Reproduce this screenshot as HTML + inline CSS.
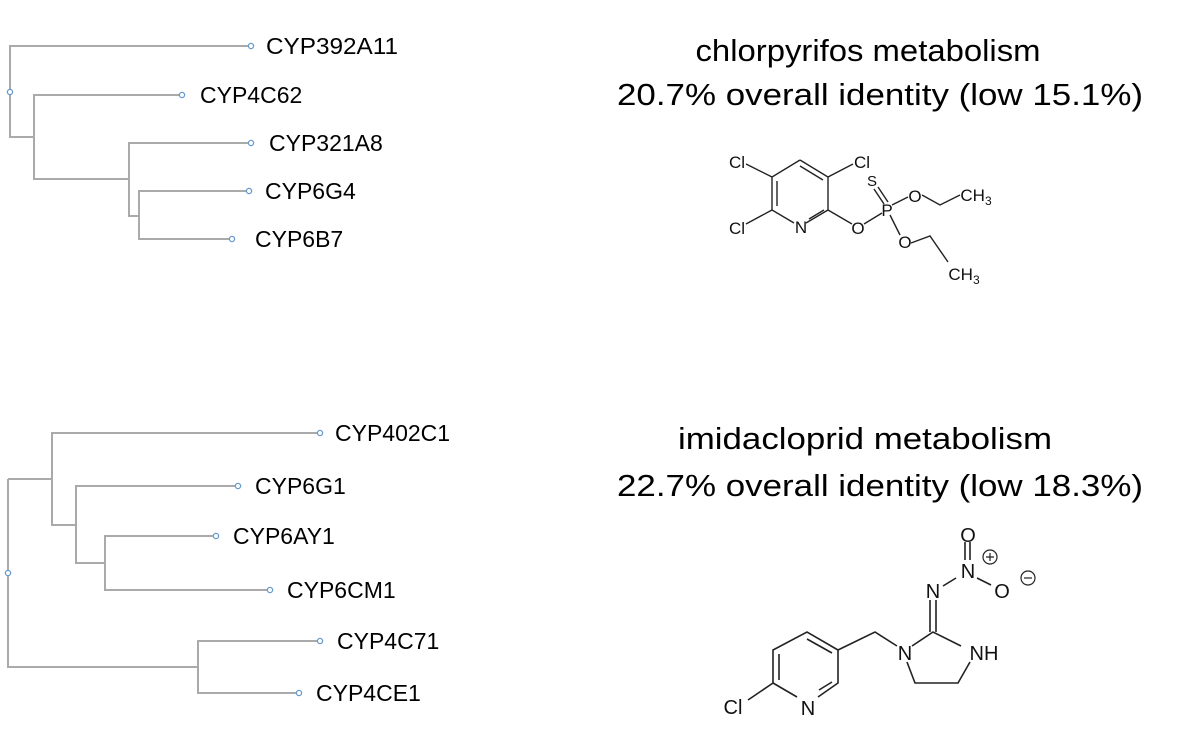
<!DOCTYPE html>
<html><head><meta charset="utf-8"><style>
html,body{margin:0;padding:0;background:#fff;}
svg{display:block;font-family:"Liberation Sans",Arial,sans-serif;}
</style></head><body>
<svg width="1199" height="734" viewBox="0 0 1199 734" xmlns="http://www.w3.org/2000/svg">
<g fill="none" stroke="#aaaaaa" stroke-width="2">
<path d="M251 46 H10 V137 H34"/>
<path d="M182 95 H34 V179 H129"/>
<path d="M251 143 H129 V216 H139"/>
<path d="M249 191 H139 V239 H232"/>
<path d="M8 479 V667 H198"/>
<path d="M8 479 H52"/>
<path d="M320 433 H52 V525 H76"/>
<path d="M238 486 H76 V563 H105"/>
<path d="M216 536 H105 V590 H270"/>
<path d="M320 641 H198 V693 H299"/>
</g>
<g fill="#fff" stroke="#6699cc" stroke-width="1.3">
<circle cx="251" cy="46" r="2.6"/><circle cx="182" cy="95" r="2.6"/><circle cx="251" cy="143" r="2.6"/><circle cx="249" cy="191" r="2.6"/><circle cx="232" cy="239" r="2.6"/><circle cx="10" cy="92" r="2.6"/>
<circle cx="320" cy="433" r="2.6"/><circle cx="238" cy="486" r="2.6"/><circle cx="216" cy="536" r="2.6"/><circle cx="270" cy="590" r="2.6"/><circle cx="320" cy="641" r="2.6"/><circle cx="299" cy="693" r="2.6"/><circle cx="8" cy="573" r="2.6"/>
</g>
<g font-size="23" fill="#000">
<text x="266" y="54" textLength="132" lengthAdjust="spacingAndGlyphs">CYP392A11</text>
<text x="200" y="103">CYP4C62</text>
<text x="269" y="151">CYP321A8</text>
<text x="265" y="199">CYP6G4</text>
<text x="255" y="247">CYP6B7</text>
<text x="335" y="441">CYP402C1</text>
<text x="255" y="494">CYP6G1</text>
<text x="233" y="544">CYP6AY1</text>
<text x="287" y="598">CYP6CM1</text>
<text x="337" y="649">CYP4C71</text>
<text x="316" y="701">CYP4CE1</text>
</g>
<g font-size="31" fill="#000" text-anchor="middle">
<text x="868" y="61" textLength="345" lengthAdjust="spacingAndGlyphs">chlorpyrifos metabolism</text>
<text x="880" y="105" textLength="526" lengthAdjust="spacingAndGlyphs">20.7% overall identity (low 15.1%)</text>
<text x="865" y="449" textLength="374" lengthAdjust="spacingAndGlyphs">imidacloprid metabolism</text>
<text x="880" y="496" textLength="526" lengthAdjust="spacingAndGlyphs">22.7% overall identity (low 18.3%)</text>
</g>
<g stroke="#222" stroke-width="1.4" fill="none">
<path d="M800 160 L828 177 L828 210 M800 160 L772 177 L772 210 L794 223 M806 223 L828 210"/>
<path d="M777 181 L777 206 M800 166 L823 180 M809 219 L824 210"/>
<path d="M772 177 L746 164 M828 177 L853 164 M772 210 L746 224"/>
<path d="M828 210 L852 224 M864 224 L882 213 M892 205 L908 197 M922 195 L940 205 L960 195"/>
<path d="M890 215 L900 235 M911 243 L930 236 L948 262"/>
<path d="M874 189 L884 204 M878 187 L888 202"/>
</g>
<g font-size="17" fill="#111" text-anchor="middle">
<text x="737" y="168">Cl</text><text x="862" y="168">Cl</text><text x="737" y="234">Cl</text>
<text x="801" y="233">N</text><text x="858" y="234">O</text><text x="887" y="216">P</text>
<text x="872" y="186" font-size="15">S</text><text x="915" y="202">O</text><text x="905" y="248">O</text>
<text x="976" y="201">CH<tspan font-size="12" dy="4">3</tspan></text>
<text x="964" y="280">CH<tspan font-size="12" dy="4">3</tspan></text>
</g>
<g stroke="#222" stroke-width="1.6" fill="none">
<path d="M773 683 L773 650 L807 632 L838 650 L838 683 L818 697 M797 697 L773 683 M773 683 L748 700"/>
<path d="M779 680 L779 654 M807 639 L832 653 M819 690 L832 682"/>
<path d="M838 650 L875 632 L897 646 M912 646 L933 632 L961 646 M907 662 L915 683 L958 683 L970 662"/>
<path d="M930 632 L930 600 M936 632 L936 600 M943 586 L956 578 M965 560 L965 542 M970 560 L970 542 M977 578 L991 585"/>
</g>
<g font-size="20" fill="#111" text-anchor="middle">
<text x="733" y="714">Cl</text><text x="808" y="715">N</text><text x="905" y="660">N</text>
<text x="984" y="660">NH</text><text x="933" y="598">N</text><text x="968" y="578">N</text>
<text x="968" y="542">O</text><text x="1002" y="598">O</text>
</g>
<g stroke="#222" stroke-width="1.2" fill="none">
<circle cx="990" cy="557" r="7"/><path d="M986 557 H994 M990 553 V561"/>
<circle cx="1028" cy="578" r="7"/><path d="M1024 578 H1032"/>
</g>
</svg>
</body></html>
